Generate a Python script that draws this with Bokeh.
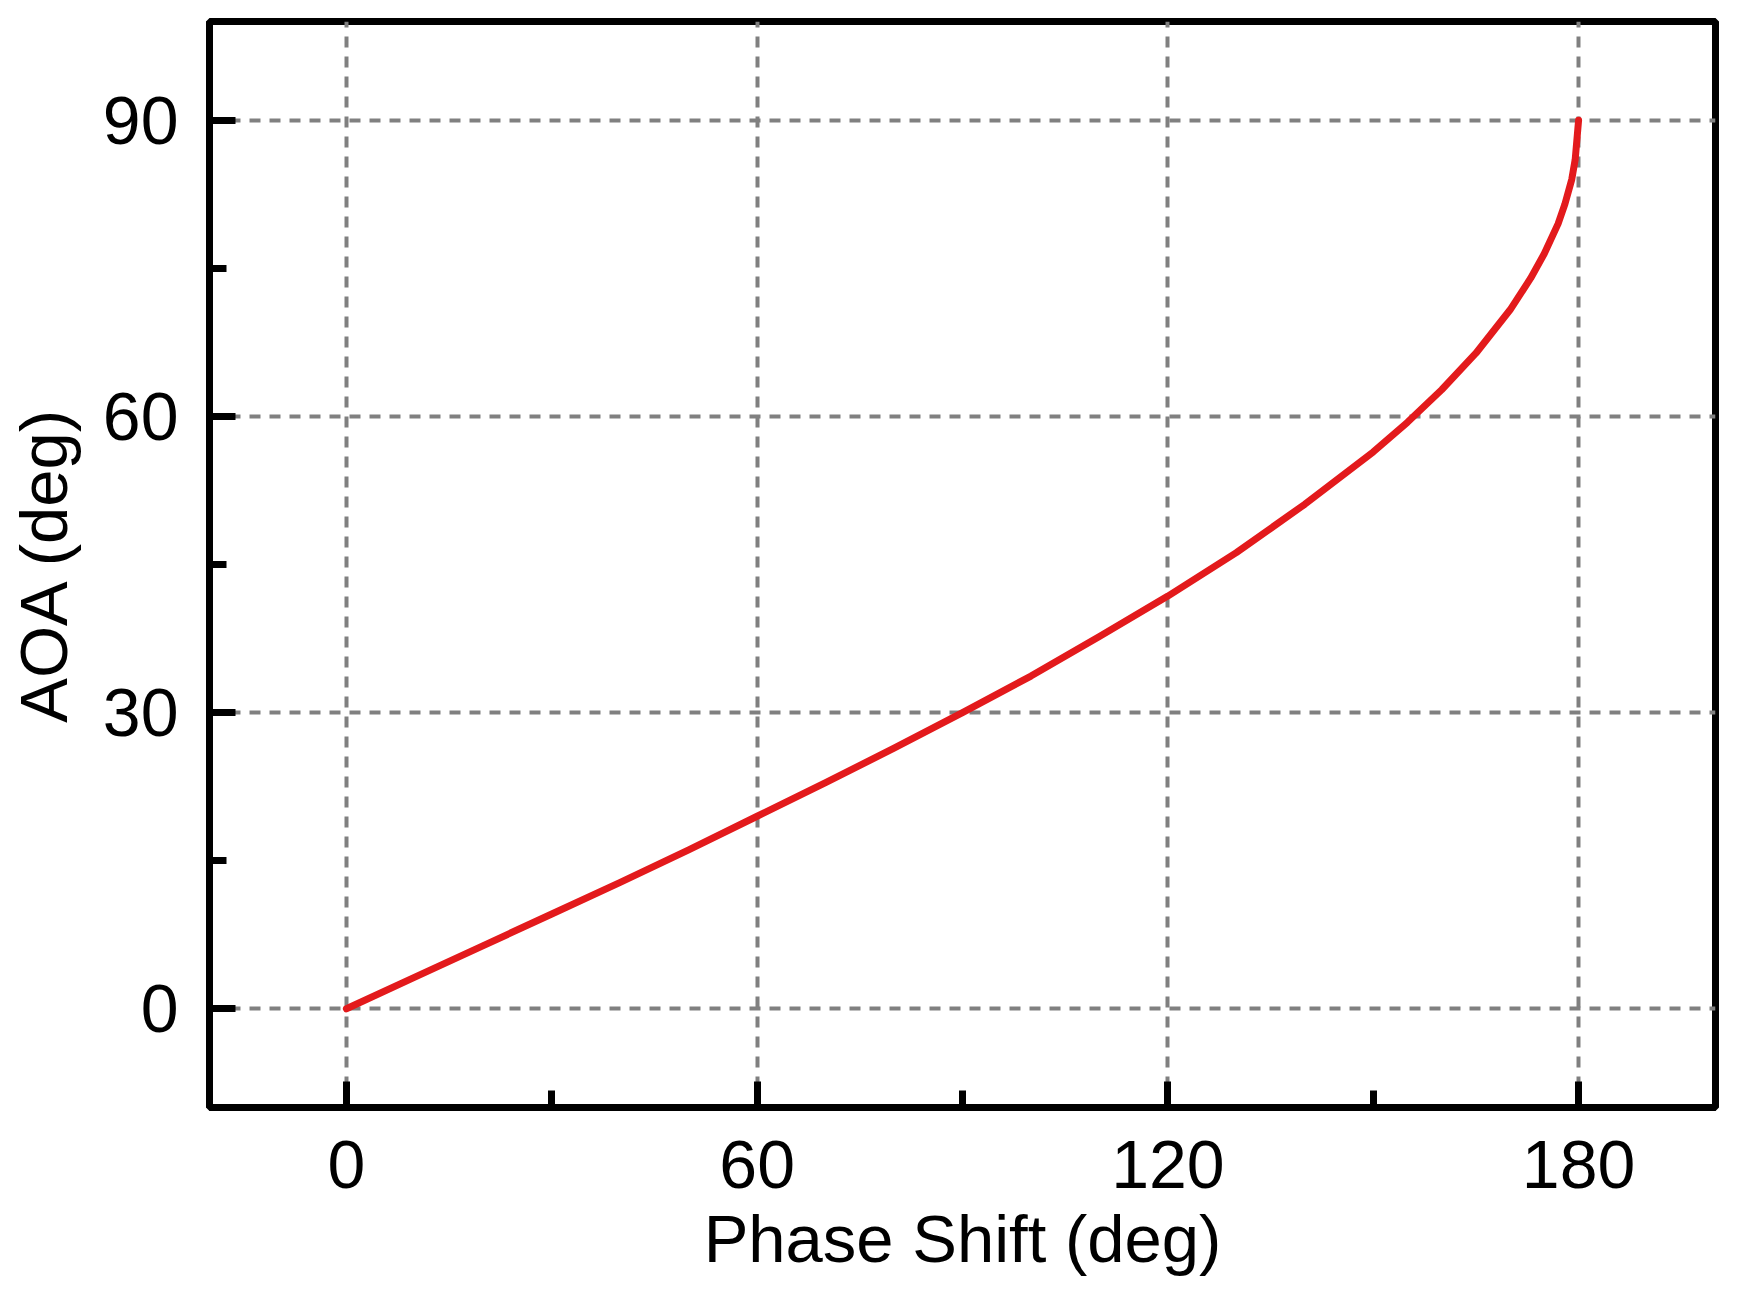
from bokeh.plotting import figure
from bokeh.models import FixedTicker, Range1d
from bokeh.embed import file_html
from bokeh.resources import INLINE

# values
phase = [0, 10, 20, 30, 40, 50, 60, 70, 80, 90, 100, 110, 120, 130, 140,
         150, 155, 160, 165, 170, 173, 175, 177, 178, 179, 179.5, 180]
aoa = [0, 3.2, 6.4, 9.6, 12.8, 16.1, 19.5, 22.9, 26.4, 30.0, 33.7, 37.7, 41.8, 46.2, 51.1,
       56.4, 59.4, 62.7, 66.4, 70.8, 74.0, 76.5, 79.5, 81.5, 84.0, 86.0, 90.0]

x_major = [0, 60, 120, 180]
x_minor = [30, 90, 150]
y_major = [0, 30, 60, 90]
y_minor = [15, 45, 75]

FONT = "Liberation Sans"

p = figure(frame_width=1506, frame_height=1086,
           min_border_left=209, min_border_right=11, min_border_top=21, min_border_bottom=167,
           x_range=Range1d(-20, 200), y_range=Range1d(-10, 100),
           output_backend="svg", toolbar_location=None,
           x_axis_label="Phase Shift (deg)", y_axis_label="AOA (deg)")

p.line(phase, aoa, line_color="#e31a1c", line_width=7, line_cap="round", line_join="round")

p.xaxis.ticker = FixedTicker(ticks=x_major, minor_ticks=x_minor)
p.yaxis.ticker = FixedTicker(ticks=y_major, minor_ticks=y_minor)

for ax in (p.xaxis, p.yaxis):
    ax.axis_line_width = 7
    ax.axis_line_color = "black"
    ax.major_tick_in = 26
    ax.major_tick_out = 0
    ax.minor_tick_in = 17
    ax.minor_tick_out = 0
    ax.major_tick_line_width = 7
    ax.minor_tick_line_width = 7
    ax.major_tick_line_color = "black"
    ax.minor_tick_line_color = "black"
    ax.major_label_text_font = FONT
    ax.major_label_text_font_size = "68px"
    ax.major_label_text_color = "black"
    ax.axis_label_text_font = FONT
    ax.axis_label_text_font_size = "67px"
    ax.axis_label_text_font_style = "normal"
    ax.axis_label_text_color = "black"

p.xaxis.major_label_standoff = 33
p.yaxis.major_label_standoff = 31
p.xaxis.axis_label_standoff = 10
p.yaxis.axis_label_standoff = 19

p.grid.grid_line_color = "#808080"
p.grid.grid_line_width = 4
p.grid.grid_line_dash = "11 9"

p.outline_line_color = "black"
p.outline_line_width = 7
p.outline_line_alpha = 1.0

open("out.html", "w").write(file_html(p, INLINE))
